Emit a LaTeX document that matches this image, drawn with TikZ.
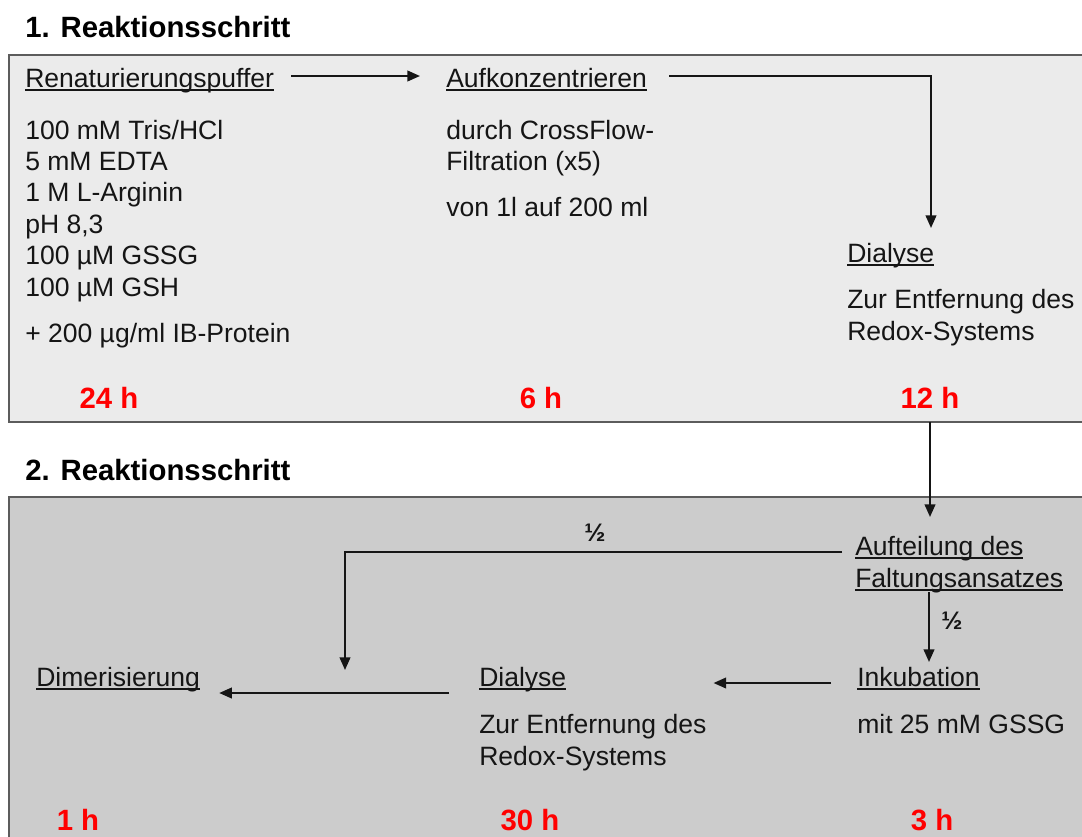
\documentclass[tikz,border=0pt]{standalone}
\usepackage{fontspec}
\setmainfont{Liberation Sans}
\newcommand{\ulx}[1]{\setbox0\hbox{#1}\rlap{\rule[-3pt]{\wd0}{1.4pt}}\box0}
\usetikzlibrary{arrows.meta,calc}
\definecolor{boxa}{HTML}{EBEBEB}
\definecolor{boxb}{HTML}{CCCCCC}
\definecolor{frame}{HTML}{5C5C5C}
\definecolor{ink}{HTML}{151515}
\begin{document}
\begin{tikzpicture}[x=0.75pt,y=-0.75pt,
  txt/.style={anchor=base west,inner sep=0pt,font=\fontsize{19.9}{23}\selectfont,text=ink},
  hd/.style={anchor=base west,inner sep=0pt,font=\fontsize{22}{26}\selectfont\bfseries,text=black},
  hrs/.style={anchor=base,inner sep=0pt,font=\fontsize{22}{26}\selectfont\bfseries,text=red},
  lbl/.style={anchor=center,inner sep=0pt,font=\fontsize{19}{22}\selectfont\bfseries,text=ink},
  conn/.style={draw=ink,line width=1.5pt,-{Triangle[length=9.5pt,width=8pt]}},
  panel/.style={draw=frame,line width=1.8pt}]
\useasboundingbox (0,0) rectangle (1082,836);
\clip (0,0) rectangle (1082,836);
\fill[white] (0,0) rectangle (1082,836);
% panels
\draw[panel,fill=boxa] (9,55) rectangle (1100,422);
\draw[panel,fill=boxb] (9,497) rectangle (1100,860);
% step 1
\node[hd] (h1) at (25,37) {1. Reaktionsschritt};
\node[txt] (ren) at (25,87) {\ulx{Renaturierungspuffer}};
\node[txt] (r1) at (25,139) {100 mM Tris/HCl};
\node[txt] (r2) at (25,170) {5 mM EDTA};
\node[txt] (r3) at (25,201) {1 M L-Arginin};
\node[txt] (r4) at (25,233) {pH 8,3};
\node[txt] (r5) at (25,264) {100 µM GSSG};
\node[txt] (r6) at (25,296) {100 µM GSH};
\node[txt] (r7) at (25,342) {+ 200 µg/ml IB-Protein};
\node[txt] (auf) at (446,87) {\ulx{Aufkonzentrieren}};
\node[txt] (a1) at (446,139) {durch CrossFlow-};
\node[txt] (a2) at (446,170) {Filtration (x5)};
\node[txt] (a3) at (446,216) {von 1l auf 200 ml};
\node[txt] (dia1) at (847,262) {\ulx{Dialyse}};
\node[txt] (d1) at (847,308) {Zur Entfernung des};
\node[txt] (d2) at (847,340) {Redox-Systems};
\node[hrs] (t24) at (109,408) {24 h};
\node[hrs] (t6) at (541,408) {6 h};
\node[hrs] (t12) at (930,408) {12 h};
% step 2
\node[hd] (h2) at (25,480) {2. Reaktionsschritt};
\node[txt] (aufl) at (855,555) {\ulx{Aufteilung des}};
\node[txt] (falt) at (855,587) {\ulx{Faltungsansatzes}};
\node[txt] (ink) at (857,686) {\ulx{Inkubation}};
\node[txt] (i1) at (857,733) {mit 25 mM GSSG};
\node[txt] (dia2) at (479,686) {\ulx{Dialyse}};
\node[txt] (e1) at (479,733) {Zur Entfernung des};
\node[txt] (e2) at (479,765) {Redox-Systems};
\node[txt] (dim) at (36,686) {\ulx{Dimerisierung}};
\node[hrs] (t1) at (78,830) {1 h};
\node[hrs] (t30) at (530,830) {30 h};
\node[hrs] (t3) at (932,830) {3 h};
\node[lbl] (half1) at (595,533) {½};
\node[lbl] (half2) at (952,621) {½};
% connectors
\coordinate (b1bot) at (930,422);
\coordinate (merge) at (345,670);
\draw[conn] ($(ren.base east)+(17,-11)$) -- ($(auf.base west)+(-26,-11)$);
\draw[conn] ($(auf.base east)+(22,-11)$) -| ($(dia1.base west)+(84,-34)$);
\draw[conn] (b1bot) -- ($(aufl.base west)+(75,-38)$);
\draw[conn] ($(aufl.base west)+(-13,-3)$) -| (merge);
\draw[conn] ($(falt.base west)+(74,5)$) -- ($(ink.base west)+(72,-24)$);
\draw[conn] ($(ink.base west)+(-26,-3)$) -- ($(dia2.base east)+(147,-3)$);
\draw[conn] ($(dia2.base west)+(-30,7)$) -- ($(dim.base east)+(19,7)$);
\end{tikzpicture}
\end{document}
